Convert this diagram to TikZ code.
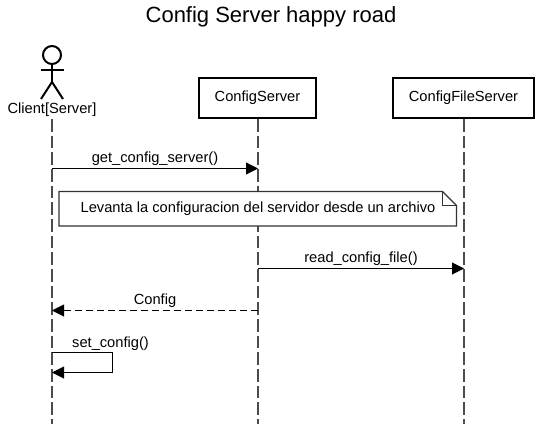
\documentclass[tikz,border=0pt]{standalone}
\usepackage{fontspec}
\setmainfont{Liberation Sans}
\usetikzlibrary{arrows.meta}
\tikzset{
  x=0.75pt,y=-0.75pt,
  txt/.style={inner sep=0pt,font=\fontsize{11}{13}\selectfont,anchor=base},
  part/.style={draw,line width=2pt,minimum height=30pt,inner sep=0pt,font=\fontsize{11}{13}\selectfont},
  life/.style={line width=1.1pt,dash pattern=on 9.5pt off 3pt,draw=black!70},
  msg/.style={line width=0.75pt,-{Triangle[length=9pt,width=9pt]}},
  ret/.style={msg,dash pattern=on 5.25pt off 3pt},
  stick/.style={line width=1.5pt,line cap=butt},
  notebox/.style={line width=0.85pt,draw=black!80}
}
\begin{document}
\begin{tikzpicture}
\useasboundingbox (0,0) rectangle (542,424);
\node[inner sep=0pt,anchor=base,font=\fontsize{16.5}{20}\selectfont] (title) at (271,23) {Config Server happy road};
% actor
\coordinate (hip) at (52,82);
\node[draw,circle,line width=1.5pt,minimum size=13.5pt,inner sep=0pt] (head) at (52,55) {};
\draw[stick] (head.south) -- (hip);
\draw[stick] (40.5,70) coordinate (armL) -- (63.5,70) coordinate (armR);
\draw[stick] (hip) -- (41,99) coordinate (legL);
\draw[stick] (hip) -- (63,99) coordinate (legR);
\node[txt] (client) at (52,114) {Client[Server]};
\node[part,minimum width=87.75pt] (cs) at (257.5,98) {ConfigServer};
\node[part,minimum width=105.75pt] (cfs) at (463.5,98) {ConfigFileServer};
\coordinate (clientTop) at (52,119);
\coordinate (clientEnd) at (52,424);
\coordinate (csTop) at (258,119);
\coordinate (csEnd) at (258,424);
\coordinate (cfsTop) at (464,119);
\coordinate (cfsEnd) at (464,424);
\draw[life] (clientTop) -- (clientEnd);
\draw[life] (csTop) -- (csEnd);
\draw[life] (cfsTop) -- (cfsEnd);
% messages
\coordinate (m1a) at (52,168.5); \coordinate (m1b) at (258,168.5);
\draw[msg] (m1a) -- (m1b);
\node[txt] (m1t) at (155,162) {get\_config\_server()};
% note
\fill[white,draw=black!80,line width=0.85pt] (59,191.5) coordinate (n1) -- (442.5,191.5) coordinate (n2) -- (456.5,205.5) coordinate (n3) -- (456.5,226) coordinate (n4) -- (59,226) coordinate (n5) -- cycle;
\draw[notebox] (n2) -- (442.5,205.5) coordinate (n6) -- (n3);
\node[txt] (notetext) at (258,212) {Levanta la configuracion del servidor desde un archivo};
\coordinate (m2a) at (258,268.5); \coordinate (m2b) at (464,268.5);
\draw[msg] (m2a) -- (m2b);
\node[txt] (m2t) at (361,262) {read\_config\_file()};
\coordinate (m3a) at (258,310.5); \coordinate (m3b) at (52,310.5);
\draw[ret] (m3a) -- (m3b);
\node[txt] (m3t) at (155,304) {Config};
\coordinate (m4a) at (52,352.5); \coordinate (m4b) at (112.5,352.5); \coordinate (m4c) at (112.5,372.5); \coordinate (m4d) at (52,372.5);
\draw[msg] (m4a) -- (m4b) -- (m4c) -- (m4d);
\node[txt] (m4t) at (110.5,347) {set\_config()};
\end{tikzpicture}
\end{document}
